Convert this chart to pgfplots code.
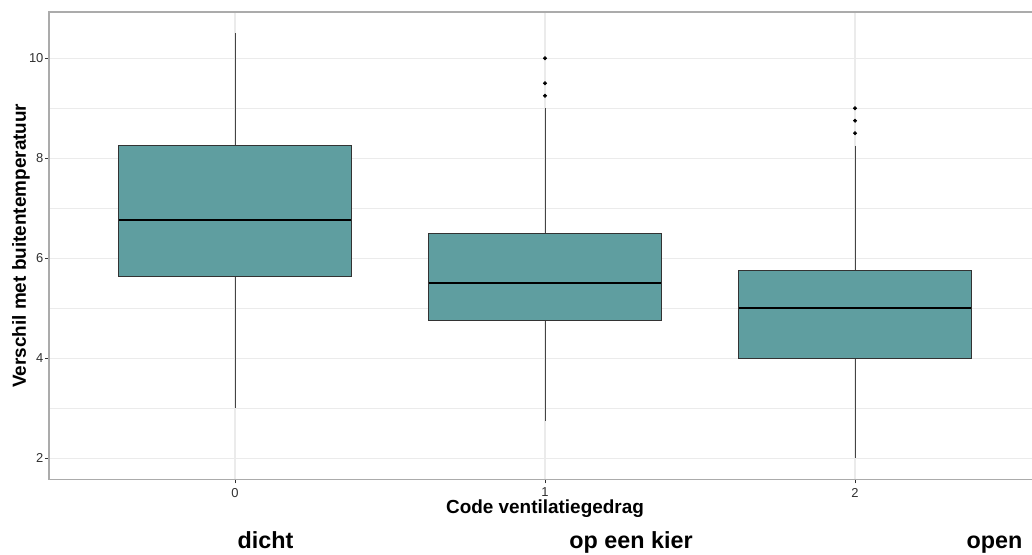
\documentclass[border=0pt]{standalone}
\usepackage{pgfplots}
\pgfplotsset{compat=1.18}
\usepgfplotslibrary{statistics}
\usepackage{fontspec}
\setmainfont{Liberation Sans}
\definecolor{boxfill}{HTML}{5F9EA0}
\definecolor{gridc}{HTML}{EBEBEB}
\definecolor{framec}{HTML}{ABABAB}
\definecolor{tickc}{HTML}{303030}
\definecolor{linec}{HTML}{333333}
\definecolor{whiskc}{HTML}{444444}

\begin{document}
\begin{tikzpicture}
\useasboundingbox (0,0) rectangle (774pt,415.5pt);
\clip (0,0) rectangle (774pt,415.5pt);
\begin{axis}[
  at={(36.75pt,56pt)}, anchor=south west,
  scale only axis, width=744pt, height=350.5pt,
  xmin=-0.6, xmax=2.6, ymin=1.575, ymax=10.925,
  xtick={0,1,2}, ytick={2,4,6,8,10}, minor ytick={3,5,7,9},
  grid=both,
  major grid style={gridc, line width=0.8pt},
  minor grid style={gridc, line width=0.5pt},
  axis line style={framec, line width=0.9pt},
  tick align=outside, tick pos=left,
  major tick length=3pt, minor tick length=0pt,
  every tick/.style={tickc, line width=0.6pt},
  ticklabel style={font=\fontsize{9.7}{11}\selectfont, text=tickc},
  yticklabel style={inner sep=1pt},
  /pgf/number format/assume math mode=true,
  xlabel={Code ventilatiegedrag},
  ylabel={Verschil met buitentemperatuur},
  every axis x label/.style={at={(axis description cs:0.5,0)}, anchor=center, yshift=-22pt, font=\bfseries\fontsize{14.2}{16}\selectfont},
  every axis y label/.style={at={(axis description cs:0,0.5)}, anchor=center, rotate=90, yshift=21pt, font=\bfseries\fontsize{14.2}{16}\selectfont},
  boxplot/draw direction=y,
  boxplot/box extend=0.75,
  boxplot/whisker extend=0,
]
% code 0: dicht
\addplot+[mark=none, solid, draw=linec, fill=boxfill, line width=0.75pt,
  boxplot/every whisker/.style={draw=whiskc, line width=0.7pt},
  boxplot/every median/.style={draw=black, line width=1.5pt},
  boxplot prepared={draw position=0, lower whisker=3, lower quartile=5.625,
  median=6.77, upper quartile=8.25, upper whisker=10.5}] coordinates {};
% code 1: op een kier
\addplot+[mark=none, solid, draw=linec, fill=boxfill, line width=0.75pt,
  boxplot/every whisker/.style={draw=whiskc, line width=0.7pt},
  boxplot/every median/.style={draw=black, line width=1.5pt},
  boxplot prepared={draw position=1, lower whisker=2.75, lower quartile=4.75,
  median=5.5, upper quartile=6.5, upper whisker=9}] coordinates {};
% code 2: open
\addplot+[mark=none, solid, draw=linec, fill=boxfill, line width=0.75pt,
  boxplot/every whisker/.style={draw=whiskc, line width=0.7pt},
  boxplot/every median/.style={draw=black, line width=1.5pt},
  boxplot prepared={draw position=2, lower whisker=2, lower quartile=4,
  median=5, upper quartile=5.75, upper whisker=8.25}] coordinates {};
% outliers
\addplot[only marks, mark=*, mark size=1.25pt, black] coordinates {
  (1,10) (1,9.5) (1,9.25) (2,9) (2,8.75) (2,8.5)};
\end{axis}
\node[anchor=base, font=\bfseries\fontsize{17.5}{20}\selectfont] at (199.1pt,4.5pt) {dicht};
\node[anchor=base, font=\bfseries\fontsize{17.5}{20}\selectfont] at (473.25pt,4.5pt) {op een kier};
\node[anchor=base, font=\bfseries\fontsize{17.5}{20}\selectfont] at (745.9pt,4.5pt) {open};
\end{tikzpicture}
\end{document}
